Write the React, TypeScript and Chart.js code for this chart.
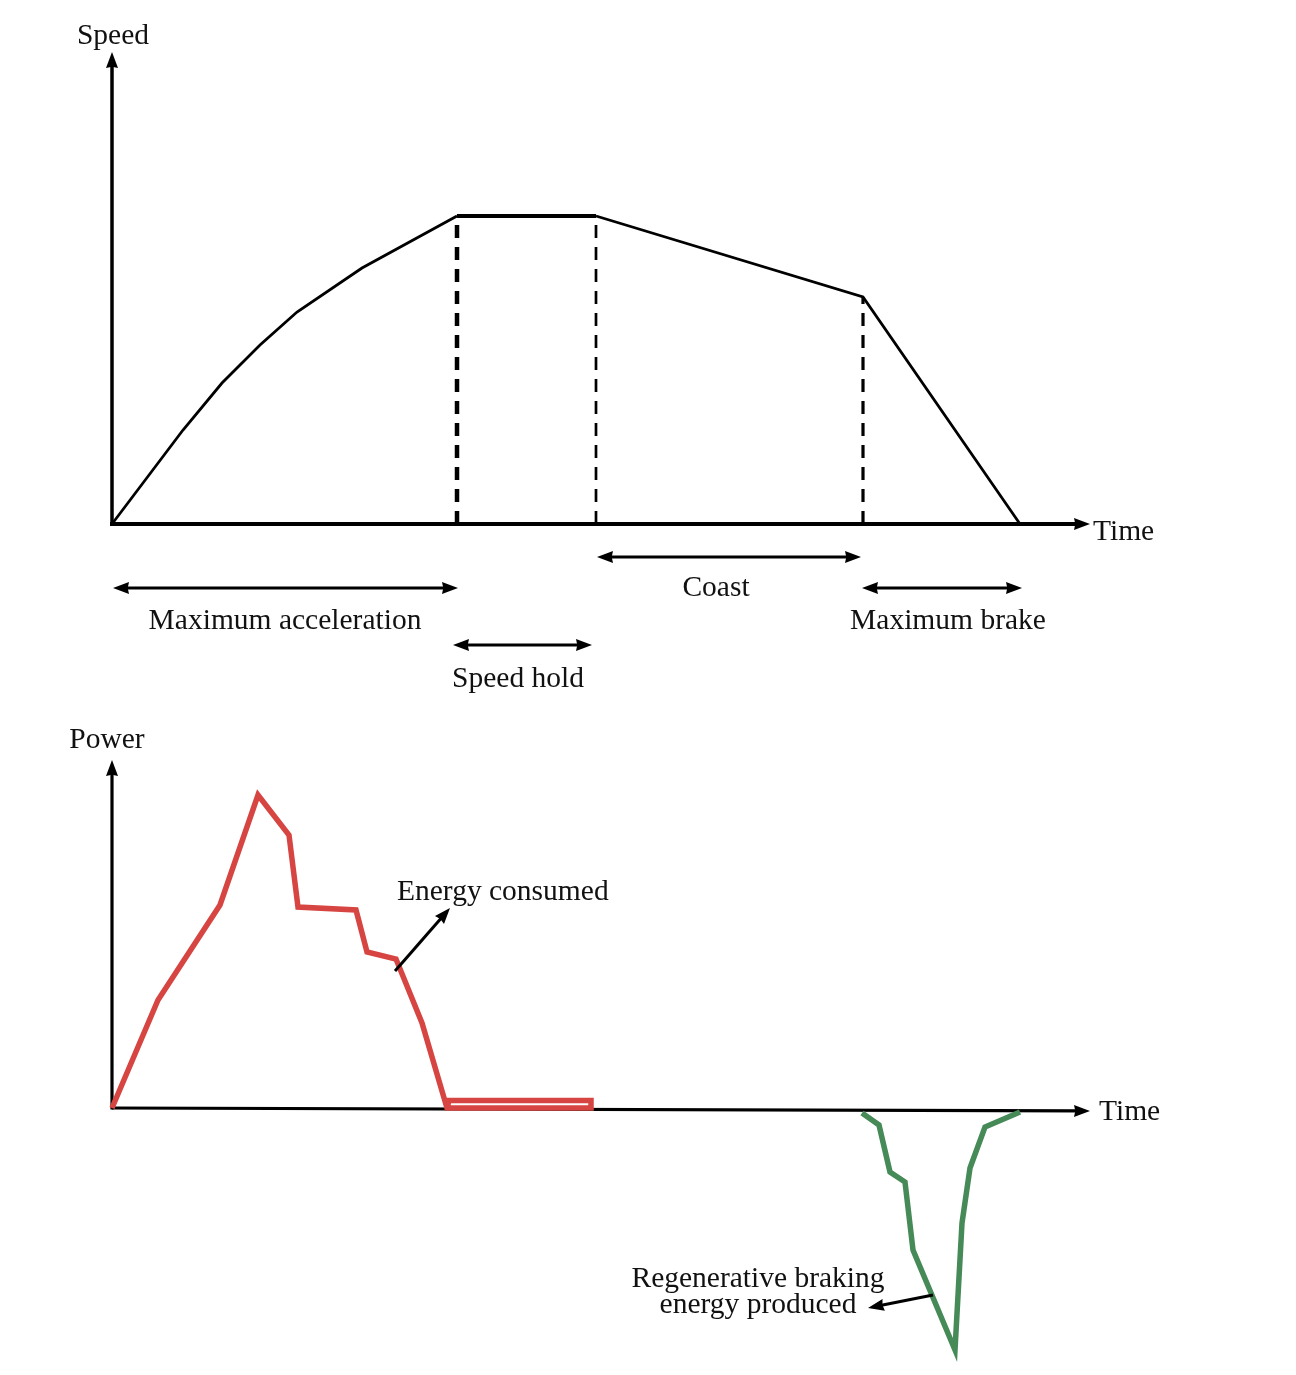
import React, { useEffect, useRef } from "react";
import { Chart, registerables } from "chart.js";
Chart.register(...registerables);

// ---------- Top panel: speed profile (time units, speed units) ----------
const speedTime = [0, 7.1, 11.0, 14.8, 18.5, 25.0, 34.5, 48.4, 75.1, 90.8];
const speedValue = [0, 9.4, 14.1, 17.9, 21.2, 25.6, 30.8, 30.8, 22.7, 0];
const boundaryIndex = [6, 7, 8];
const boundaryWidth = [4.5, 2.7, 3.2];
const timeAxisMax = 97.8;
const speedAxisMax = 47.2;

const phaseNames = ["Maximum acceleration", "Speed hold", "Coast", "Maximum brake"];
const phaseStart = [0.1, 34.1, 48.5, 75.0];
const phaseEnd = [34.6, 48.0, 74.9, 91.0];
const phaseArrowLevel = [-6.4, -12.1, -3.3, -6.4];
const phaseLabelX = [17.3, 40.6, 60.4, 83.6];
const phaseLabelY = [-9.7, -15.5, -6.4, -9.7];

// ---------- Bottom panel: power profile ----------
const consumedTime = [0, 4.6, 10.8, 14.6, 17.7, 18.6, 24.4, 25.5, 28.4, 31.0, 33.5, 47.9, 47.9, 33.7, 33.5];
const consumedPower = [0, 10.8, 20.3, 31.3, 27.3, 20.1, 19.8, 15.6, 14.9, 8.5, 0.0, 0.0, 0.75, 0.75, 0.0];
const regenTime = [75.0, 76.7, 77.8, 79.3, 80.1, 84.3, 85.0, 85.8, 87.3, 90.8];
const regenPower = [-0.5, -1.7, -6.4, -7.4, -14.2, -24.2, -11.5, -6.0, -1.9, -0.4];
const powerAxisMax = 34.8;
const powerAxisMin = -25.1;
const powerAxisEndDrop = -0.3;

const energyArrow = [28.3, 13.7, 33.8, 20.0];
const energyLabel = { text: "Energy consumed", x: 28.5, y: 21.6 };
const regenArrow = [82.1, -18.7, 75.6, -20.0];
const regenLabelLines = ["Regenerative braking", "energy produced"];
const regenLabelX = 64.6;
const regenLabelY = [-17.1, -19.7];

const FONT = '29.5px "Liberation Serif", "DejaVu Serif", serif';

function head(ctx: CanvasRenderingContext2D, fx: number, fy: number, tx: number, ty: number, len: number, half: number) {
  const a = Math.atan2(ty - fy, tx - fx);
  ctx.save();
  ctx.translate(tx, ty);
  ctx.rotate(a);
  ctx.beginPath();
  ctx.moveTo(0, 0);
  ctx.lineTo(-len, -half);
  ctx.lineTo(-len * 0.92, 0);
  ctx.lineTo(-len, half);
  ctx.closePath();
  ctx.fill();
  ctx.restore();
}

function arrow(ctx: CanvasRenderingContext2D, x1: number, y1: number, x2: number, y2: number, width: number, len: number, half: number, both: boolean) {
  const a = Math.atan2(y2 - y1, x2 - x1);
  const cut = len * 0.7;
  const sx = both ? x1 + Math.cos(a) * cut : x1;
  const sy = both ? y1 + Math.sin(a) * cut : y1;
  const ex = x2 - Math.cos(a) * cut;
  const ey = y2 - Math.sin(a) * cut;
  ctx.save();
  ctx.strokeStyle = "#000";
  ctx.fillStyle = "#000";
  ctx.lineWidth = width;
  ctx.lineCap = "butt";
  ctx.beginPath();
  ctx.moveTo(sx, sy);
  ctx.lineTo(ex, ey);
  ctx.stroke();
  head(ctx, x1, y1, x2, y2, len, half);
  if (both) head(ctx, x2, y2, x1, y1, len, half);
  ctx.restore();
}

function text(ctx: CanvasRenderingContext2D, s: string, x: number, y: number, align: CanvasTextAlign) {
  ctx.save();
  ctx.font = FONT;
  ctx.fillStyle = "#111";
  ctx.textAlign = align;
  ctx.textBaseline = "middle";
  ctx.fillText(s, x, y);
  ctx.restore();
}

const topDecor = {
  id: "topDecor",
  beforeDatasetsDraw(chart: any) {
    const { ctx } = chart;
    const xs = chart.scales.x;
    const ys = chart.scales.y;
    const x0 = xs.getPixelForValue(0);
    const y0 = ys.getPixelForValue(0);
    arrow(ctx, x0 - 2, y0, xs.getPixelForValue(timeAxisMax), y0, 4, 16, 6, false);
    arrow(ctx, x0, y0 + 2, x0, ys.getPixelForValue(speedAxisMax), 3.5, 16, 6, false);
  },
  afterDraw(chart: any) {
    const { ctx } = chart;
    const xs = chart.scales.x;
    const ys = chart.scales.y;
    phaseNames.forEach((name, i) => {
      const ay = ys.getPixelForValue(phaseArrowLevel[i]);
      arrow(ctx, xs.getPixelForValue(phaseStart[i]), ay, xs.getPixelForValue(phaseEnd[i]), ay, 3, 16, 6, true);
      text(ctx, name, xs.getPixelForValue(phaseLabelX[i]), ys.getPixelForValue(phaseLabelY[i]), "center");
    });
    text(ctx, "Speed", xs.getPixelForValue(0.1), ys.getPixelForValue(48.8), "center");
    text(ctx, "Time", xs.getPixelForValue(98.1), ys.getPixelForValue(-0.8), "left");
  },
};

const bottomDecor = {
  id: "bottomDecor",
  beforeDatasetsDraw(chart: any) {
    const { ctx } = chart;
    const xs = chart.scales.x;
    const ys = chart.scales.y;
    const x0 = xs.getPixelForValue(0);
    const y0 = ys.getPixelForValue(0);
    arrow(ctx, x0, y0, xs.getPixelForValue(timeAxisMax), ys.getPixelForValue(powerAxisEndDrop), 3.2, 16, 6, false);
    arrow(ctx, x0, y0 + 1.5, x0, ys.getPixelForValue(powerAxisMax), 3.2, 16, 6, false);
  },
  afterDraw(chart: any) {
    const { ctx } = chart;
    const xs = chart.scales.x;
    const ys = chart.scales.y;
    arrow(ctx, xs.getPixelForValue(energyArrow[0]), ys.getPixelForValue(energyArrow[1]), xs.getPixelForValue(energyArrow[2]), ys.getPixelForValue(energyArrow[3]), 3, 16, 6, false);
    text(ctx, energyLabel.text, xs.getPixelForValue(energyLabel.x), ys.getPixelForValue(energyLabel.y), "left");
    arrow(ctx, xs.getPixelForValue(regenArrow[0]), ys.getPixelForValue(regenArrow[1]), xs.getPixelForValue(regenArrow[2]), ys.getPixelForValue(regenArrow[3]), 3, 16, 6, false);
    regenLabelLines.forEach((l, i) => text(ctx, l, xs.getPixelForValue(regenLabelX), ys.getPixelForValue(regenLabelY[i]), "center"));
    text(ctx, "Power", xs.getPixelForValue(-0.5), ys.getPixelForValue(36.8), "center");
    text(ctx, "Time", xs.getPixelForValue(98.7), ys.getPixelForValue(-0.4), "left");
  },
};

const baseOptions = (yMin: number, yMax: number, padding: any) => ({
  responsive: false,
  animation: false as const,
  events: [] as any[],
  layout: { padding },
  scales: {
    x: { type: "linear" as const, min: 0, max: timeAxisMax, display: false },
    y: { type: "linear" as const, min: yMin, max: yMax, display: false },
  },
  plugins: { legend: { display: false }, tooltip: { enabled: false } },
});

export default function App() {
  const topRef = useRef<HTMLCanvasElement>(null);
  const botRef = useRef<HTMLCanvasElement>(null);

  useEffect(() => {
    const boundaries = boundaryIndex.map((idx, i) => ({
      data: [
        { x: speedTime[idx], y: 0 },
        { x: speedTime[idx], y: speedValue[idx] },
      ],
      showLine: true,
      borderColor: "#000",
      borderWidth: boundaryWidth[i],
      borderDash: [13, 9],
      pointRadius: 0,
      clip: false,
    }));
    const top = new Chart(topRef.current as HTMLCanvasElement, {
      type: "scatter",
      data: {
        datasets: [
          ...boundaries,
          {
            data: speedTime.map((t, i) => ({ x: t, y: speedValue[i] })),
            showLine: true,
            borderColor: "#000",
            borderWidth: 2.8,
            borderJoinStyle: "miter",
            pointRadius: 0,
            clip: false,
            segment: { borderWidth: (c: any) => (c.p0DataIndex === 6 ? 4.2 : 2.8) },
          } as any,
        ],
      },
      options: baseOptions(0, speedAxisMax, { left: 112, right: 206, top: 52, bottom: 176 }) as any,
      plugins: [topDecor],
    });
    const bot = new Chart(botRef.current as HTMLCanvasElement, {
      type: "scatter",
      data: {
        datasets: [
          {
            data: consumedTime.map((t, i) => ({ x: t, y: consumedPower[i] })),
            showLine: true,
            borderColor: "#d64541",
            borderWidth: 5.5,
            borderJoinStyle: "miter",
            pointRadius: 0,
            clip: false,
          } as any,
          {
            data: regenTime.map((t, i) => ({ x: t, y: regenPower[i] })),
            showLine: true,
            borderColor: "#468a57",
            borderWidth: 5.5,
            borderJoinStyle: "miter",
            pointRadius: 0,
            clip: false,
          } as any,
        ],
      },
      options: baseOptions(powerAxisMin, powerAxisMax, { left: 112, right: 206, top: 60, bottom: 16 }) as any,
      plugins: [bottomDecor],
    });
    return () => {
      top.destroy();
      bot.destroy();
    };
  }, []);

  return (
    <div style={{ position: "absolute", left: 0, top: 0, width: 1296, height: 1375, background: "#fff" }}>
      <canvas ref={topRef} width={1296} height={700} style={{ position: "absolute", left: 0, top: 0, width: 1296, height: 700 }} />
      <canvas ref={botRef} width={1296} height={675} style={{ position: "absolute", left: 0, top: 700, width: 1296, height: 675 }} />
    </div>
  );
}
